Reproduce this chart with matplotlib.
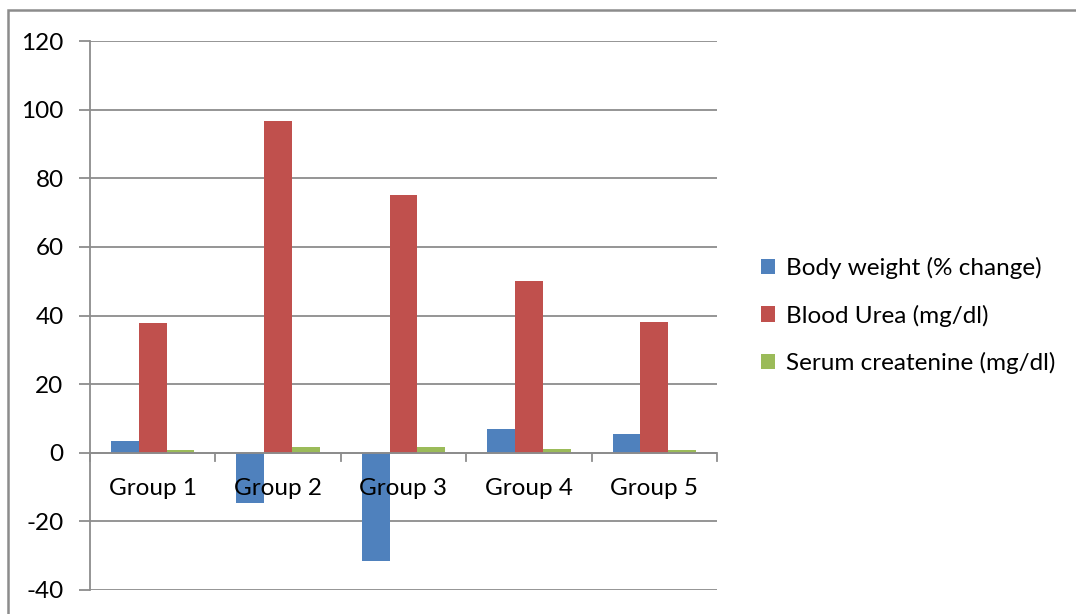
import numpy as np
import matplotlib.pyplot as plt
from matplotlib.patches import Rectangle

groups = ['Group 1', 'Group 2', 'Group 3', 'Group 4', 'Group 5']
body_weight = [3.5, -14.6, -31.5, 7.0, 5.5]
blood_urea = [37.9, 96.8, 75.2, 50.1, 38.2]
serum_creat = [0.9, 1.75, 1.6, 1.1, 0.9]
series_names = ['Body weight (% change)', 'Blood Urea (mg/dl)',
                'Serum createnine (mg/dl)']
colors = ['#4F81BD', '#C0504D', '#9BBB59']
yticks = [-40, -20, 0, 20, 40, 60, 80, 100, 120]

plt.rcParams['font.family'] = ['Lato', 'DejaVu Sans']
plt.rcParams['font.size'] = 17.5
grid_c = '#8c8c8c'

fig = plt.figure(figsize=(10.76, 6.14), dpi=100)
ax = fig.add_axes([0.0836, 0.0391, 0.5828, 0.8941])

# chart frame (top and left edges only visible)
fig.patches.append(Rectangle((8 / 1076, -0.1), 1.2, (614 - 10) / 614 + 0.1,
                             transform=fig.transFigure, fill=False,
                             edgecolor=grid_c, linewidth=1.8))

x = np.arange(len(groups))
w = 1 / 4.5
for i, (vals, name) in enumerate(zip([body_weight, blood_urea, serum_creat],
                                     series_names)):
    ax.bar(x + (i - 1) * w, vals, width=w, color=colors[i], label=name,
           zorder=3)

ax.set_xlim(-0.5, len(groups) - 0.5)
ax.set_ylim(-40, 120)
ax.set_yticks(yticks)
ax.set_yticklabels([str(t) for t in yticks])
for t in yticks:
    ax.axhline(t, color=grid_c, linewidth=1.3, zorder=1)

for s in ['top', 'right', 'bottom']:
    ax.spines[s].set_visible(False)
ax.spines['left'].set_color(grid_c)
ax.spines['left'].set_linewidth(1.3)
ax.tick_params(axis='y', length=8, width=1.3, color=grid_c, pad=11)

# category axis drawn at zero
ax.set_xticks([])
bounds = np.arange(len(groups) + 1) - 0.5
ax.axhline(0, color=grid_c, linewidth=1.3, zorder=4)
for b in bounds:
    ax.plot([b, b], [0, -2.3], color=grid_c, linewidth=1.3, zorder=4,
            clip_on=False)
for xi, g in zip(x, groups):
    ax.text(xi, -10.5, g, ha='center', va='center', zorder=5)

ax.legend(loc='center left', bbox_to_anchor=(1.035, 0.5), frameon=False,
          handlelength=0.6, handleheight=0.6, handletextpad=0.45,
          labelspacing=1.05)

fig.savefig('out.png', dpi=100)
